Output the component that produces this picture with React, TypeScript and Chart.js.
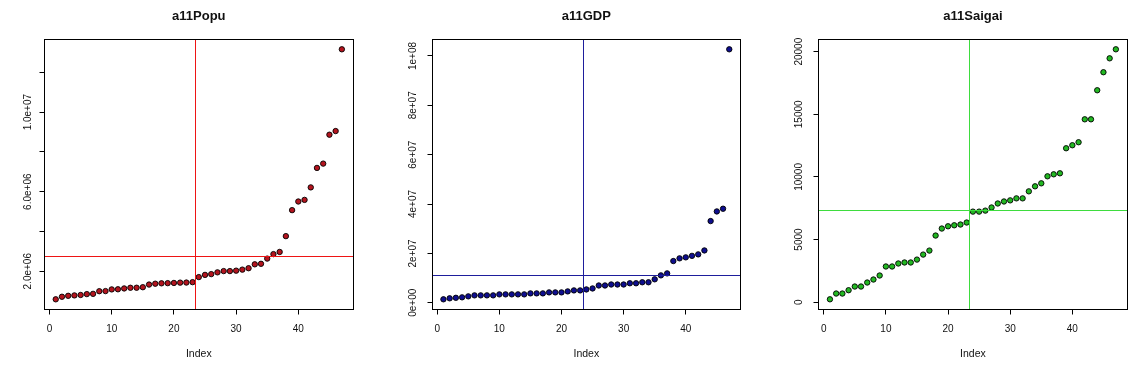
import React, { useEffect, useRef } from 'react';
import { Chart, registerables } from 'chart.js';

Chart.register(...registerables);

// ---------- data ----------
const indexTicks = [0, 10, 20, 30, 40];
const xAxisLabel = 'Index';
const midIndex = 23.5;

const popuTitle = 'a11Popu';
const popuValues = [
  589000, 717000, 764000, 785000, 806000, 850000, 863000, 996000, 1002000, 1086000,
  1093000, 1135000, 1169000, 1170000, 1197000, 1330000, 1373000, 1393000, 1401000, 1411000,
  1427000, 1431000, 1451000, 1706000, 1817000, 1855000, 1945000, 2008000, 2008000, 2029000,
  2081000, 2152000, 2348000, 2374000, 2636000, 2861000, 2970000, 3765000, 5072000, 5506000,
  5588000, 6216000, 7195000, 7411000, 8865000, 9048000, 13159000,
];
const popuTicks = [2e6, 4e6, 6e6, 8e6, 1e7, 1.2e7];
const popuTickLabels = ['2.0e+06', '', '6.0e+06', '', '1.0e+07', ''];
const popuMean = 2.72e6;

const gdpTitle = 'a11GDP';
const gdpValues = [
  1.4e6, 1.8e6, 2.0e6, 2.2e6, 2.6e6, 3.0e6, 3.0e6, 3.0e6, 3.0e6, 3.4e6,
  3.4e6, 3.4e6, 3.4e6, 3.4e6, 3.8e6, 3.8e6, 3.8e6, 4.2e6, 4.2e6, 4.2e6,
  4.6e6, 5.0e6, 5.0e6, 5.4e6, 5.8e6, 7.0e6, 7.0e6, 7.4e6, 7.4e6, 7.4e6,
  7.9e6, 7.9e6, 8.3e6, 8.3e6, 9.5e6, 11.1e6, 11.9e6, 16.9e6, 18.0e6, 18.4e6,
  19.0e6, 19.6e6, 21.2e6, 33.1e6, 37.0e6, 38.1e6, 102.7e6,
];
const gdpTicks = [0, 2e7, 4e7, 6e7, 8e7, 1e8];
const gdpTickLabels = ['0e+00', '2e+07', '4e+07', '6e+07', '8e+07', '1e+08'];
const gdpMean = 1.11e7;

const saigaiTitle = 'a11Saigai';
const saigaiValues = [
  230, 690, 690, 955, 1250, 1250, 1570, 1810, 2130, 2850,
  2850, 3090, 3170, 3170, 3400, 3800, 4120, 5320, 5880, 6060,
  6140, 6200, 6360, 7230, 7230, 7310, 7560, 7880, 8040, 8130,
  8290, 8290, 8850, 9250, 9490, 10050, 10210, 10290, 12290, 12530,
  12770, 14600, 14600, 16920, 18360, 19470, 20190,
];
const saigaiTicks = [0, 5000, 10000, 15000, 20000];
const saigaiTickLabels = ['0', '5000', '10000', '15000', '20000'];
const saigaiMean = 7300;

// ---------- layout / style ----------
const H = 369;
const BOX_TOP = 39.3;
const BOX_BOTTOM = 309.3;
const FONT = '"Liberation Sans", Arial, sans-serif';

type PanelCfg = {
  left: number;
  width: number;
  boxL: number;
  boxR: number;
  yLabOff: number;
  title: string;
  values: number[];
  ticks: number[];
  tickLabels: string[];
  mean: number;
  fill: string;
  line: string;
};

const panels: PanelCfg[] = [
  { left: 0, width: 381, boxL: 44.3, boxR: 353.3, yLabOff: 16, title: popuTitle, values: popuValues, ticks: popuTicks, tickLabels: popuTickLabels, mean: popuMean, fill: '#B3141E', line: '#EE1414' },
  { left: 381, width: 381, boxL: 432.0, boxR: 740.7, yLabOff: 18.5, title: gdpTitle, values: gdpValues, ticks: gdpTicks, tickLabels: gdpTickLabels, mean: gdpMean, fill: '#0E0E8E', line: '#1E1E9C' },
  { left: 762, width: 382, boxL: 818.5, boxR: 1127.3, yLabOff: 19.5, title: saigaiTitle, values: saigaiValues, ticks: saigaiTicks, tickLabels: saigaiTickLabels, mean: saigaiMean, fill: '#22B822', line: '#3EDC3E' },
];

const snap = (v: number) => Math.floor(v) + 0.5;

const rStylePlugin = {
  id: 'rStyle',
  afterDatasetsDraw(chart: any, _args: any, opts: any) {
    const { ctx, chartArea } = chart;
    const xs = chart.scales.x;
    const ys = chart.scales.y;
    ctx.save();
    ctx.strokeStyle = opts.line;
    ctx.lineWidth = 1;
    const vx = snap(xs.getPixelForValue(opts.vline));
    const hy = snap(ys.getPixelForValue(opts.hline));
    ctx.beginPath();
    ctx.moveTo(vx, chartArea.top);
    ctx.lineTo(vx, chartArea.bottom);
    ctx.moveTo(chartArea.left, hy);
    ctx.lineTo(chartArea.right, hy);
    ctx.stroke();
    ctx.restore();
  },
  afterDraw(chart: any, _args: any, opts: any) {
    const { ctx, chartArea } = chart;
    const xs = chart.scales.x;
    const ys = chart.scales.y;
    const L = snap(chartArea.left);
    const R = snap(chartArea.right);
    const T = snap(chartArea.top);
    const B = snap(chartArea.bottom);
    ctx.save();
    ctx.strokeStyle = '#000';
    ctx.lineWidth = 1;
    ctx.strokeRect(L, T, R - L, B - T);
    // x ticks
    ctx.beginPath();
    opts.xTicks.forEach((v: number) => {
      const p = snap(xs.getPixelForValue(v));
      ctx.moveTo(p, B);
      ctx.lineTo(p, B + 5);
    });
    opts.yTicks.forEach((v: number) => {
      const p = snap(ys.getPixelForValue(v));
      ctx.moveTo(L, p);
      ctx.lineTo(L - 5, p);
    });
    ctx.stroke();
    // x tick labels
    ctx.fillStyle = '#111';
    ctx.font = `10px ${FONT}`;
    ctx.textAlign = 'center';
    ctx.textBaseline = 'middle';
    opts.xTicks.forEach((v: number) => {
      ctx.fillText(String(v), xs.getPixelForValue(v), chartArea.bottom + 20);
    });
    // y tick labels (rotated)
    opts.yTicks.forEach((v: number, i: number) => {
      const lab = opts.yTickLabels[i];
      if (!lab) return;
      ctx.save();
      ctx.translate(chartArea.left - opts.yLabOff, ys.getPixelForValue(v));
      ctx.rotate(-Math.PI / 2);
      ctx.fillText(lab, 0, 0);
      ctx.restore();
    });
    // axis label
    const cx = (chartArea.left + chartArea.right) / 2;
    ctx.font = `10.5px ${FONT}`;
    ctx.fillText(opts.xLabel, cx, chartArea.bottom + 44.7);
    // title
    ctx.font = `bold 13px ${FONT}`;
    ctx.fillText(opts.title, cx, chartArea.top - 22.5);
    ctx.restore();
  },
};

function Panel({ cfg }: { cfg: PanelCfg }) {
  const ref = useRef<HTMLCanvasElement | null>(null);
  useEffect(() => {
    if (!ref.current) return;
    const vals = cfg.values;
    const n = vals.length;
    const vmin = Math.min(...vals);
    const vmax = Math.max(...vals);
    const yr = vmax - vmin;
    const xr = n - 1;
    const chart = new Chart(ref.current, {
      type: 'scatter',
      data: {
        datasets: [
          {
            data: vals.map((v, i) => ({ x: i + 1, y: v })),
            backgroundColor: cfg.fill,
            borderColor: '#000',
            borderWidth: 0.9,
            pointRadius: 2.7,
            showLine: false,
          },
        ],
      },
      options: {
        animation: false,
        responsive: false,
        devicePixelRatio: 1,
        layout: {
          padding: {
            left: cfg.boxL - cfg.left,
            right: cfg.left + cfg.width - cfg.boxR,
            top: BOX_TOP,
            bottom: H - BOX_BOTTOM,
          },
        },
        scales: {
          x: { type: 'linear', display: false, min: 1 - 0.04 * xr, max: n + 0.04 * xr },
          y: { type: 'linear', display: false, min: vmin - 0.04 * yr, max: vmax + 0.04 * yr },
        },
        plugins: {
          legend: { display: false },
          tooltip: { enabled: false },
          rStyle: {
            line: cfg.line,
            vline: midIndex,
            hline: cfg.mean,
            xTicks: indexTicks,
            yTicks: cfg.ticks,
            yTickLabels: cfg.tickLabels,
            yLabOff: cfg.yLabOff,
            xLabel: xAxisLabel,
            title: cfg.title,
          },
        } as any,
      },
      plugins: [rStylePlugin],
    });
    return () => chart.destroy();
  }, [cfg]);
  return (
    <canvas
      ref={ref}
      width={cfg.width}
      height={H}
      style={{ position: 'absolute', left: cfg.left, top: 0, width: cfg.width, height: H, display: 'block' }}
    />
  );
}

export default function App() {
  return (
    <div style={{ position: 'absolute', left: 0, top: 0, width: 1144, height: H, background: '#fff', overflow: 'hidden' }}>
      {panels.map((p) => (
        <Panel key={p.title} cfg={p} />
      ))}
    </div>
  );
}
